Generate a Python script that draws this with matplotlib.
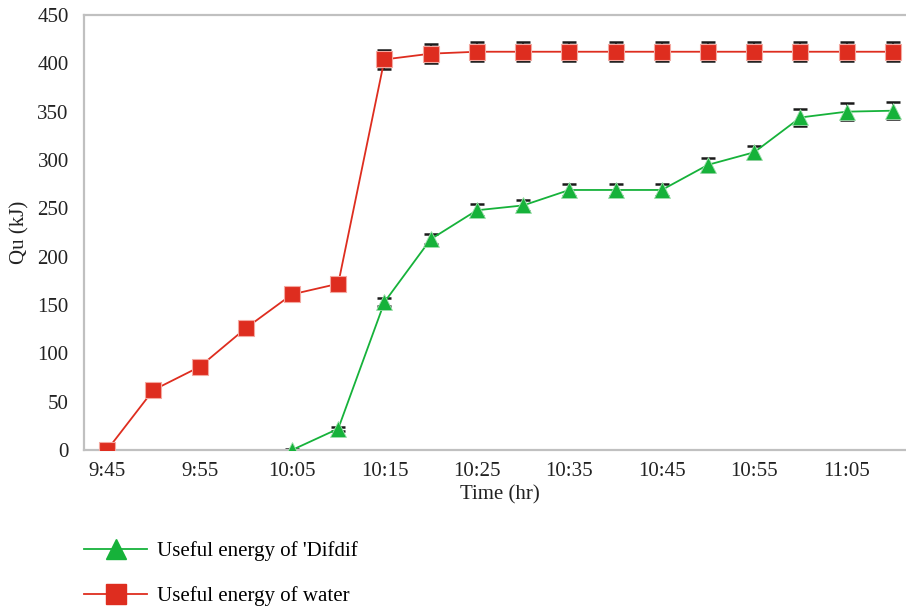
import numpy as np
import matplotlib.pyplot as plt
from matplotlib.lines import Line2D

times = ['9:45', '9:50', '9:55', '10:00', '10:05', '10:10', '10:15', '10:20', '10:25',
         '10:30', '10:35', '10:40', '10:45', '10:50', '10:55', '11:00', '11:05', '11:10']
water = [0, 62, 86, 126, 161, 172, 404, 410, 412, 412, 412, 412, 412, 412, 412, 412, 412, 412]
water_err = [0, 0, 0, 0, 0, 0, 10, 10, 10, 10, 10, 10, 10, 10, 10, 10, 10, 10]
difdif = [0, 22, 153, 218, 248, 253, 269, 269, 269, 295, 308, 344, 350, 351]
difdif_err = [1, 2, 4, 5, 6, 6, 6, 6, 6, 7, 7, 9, 9, 9]

red = '#de2d1f'
green = '#16b23a'
plt.rcParams['font.family'] = ['Liberation Serif', 'DejaVu Serif']

fig = plt.figure(figsize=(9.06, 6.1), dpi=100)
ax = fig.add_axes([84 / 906, 160 / 610, 832 / 906, 435 / 610])

x_all = np.arange(len(times))
x_d = np.arange(4, 4 + len(difdif))

# error bars behind the markers
ax.errorbar(x_all, water, yerr=water_err, fmt='none', ecolor='#1a1a1a',
            elinewidth=1.2, capsize=5, capthick=1.8, zorder=2)
ax.errorbar(x_d, difdif, yerr=difdif_err, fmt='none', ecolor='#1a1a1a',
            elinewidth=1.2, capsize=5, capthick=1.8, zorder=2)
ax.plot(x_all, water, color=red, lw=1.3, marker='s', ms=11,
        mfc=red, mec='#f4a8a0', mew=0.8, zorder=3)
ax.plot(x_d, difdif, color=green, lw=1.3, marker='^', ms=12,
        mfc=green, mec='#9fe0ad', mew=0.6, zorder=3)

ax.set_xlim(-0.5, len(times) - 0.5)
ax.set_ylim(0, 450)
ax.set_xticks(x_all[::2])
ax.set_xticklabels(times[::2])
ax.set_yticks(np.arange(0, 451, 50))
ax.tick_params(length=0, labelsize=15, colors='#222222')
ax.tick_params(axis='x', pad=9)
ax.tick_params(axis='y', pad=11)
for s in ax.spines.values():
    s.set_color('#c0c0c0')
    s.set_linewidth(1.6)
ax.set_xlabel('Time (hr)', fontsize=15, color='#222222', labelpad=3)
ax.set_ylabel('Qu (kJ)', fontsize=15, color='#222222', labelpad=6)

handles = [
    Line2D([], [], color=green, lw=1.3, marker='^', ms=15, mfc=green, mec=green),
    Line2D([], [], color=red, lw=1.3, marker='s', ms=14, mfc=red, mec=red),
]
labels = ["Useful energy of 'Difdif", 'Useful energy of water']
fig.legend(handles, labels, loc='upper left', bbox_to_anchor=(74 / 906, 1 - 531 / 610),
           frameon=False, fontsize=15, handlelength=3.0, labelspacing=1.2,
           handletextpad=0.5, borderpad=0)

fig.savefig('out.png', dpi=100)
